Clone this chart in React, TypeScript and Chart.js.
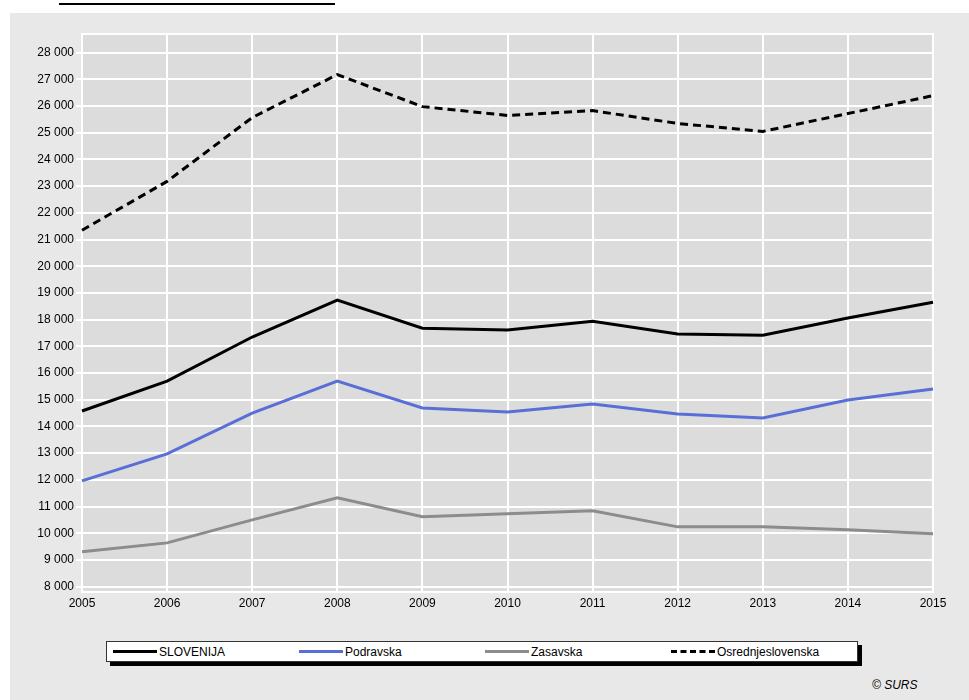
import { useEffect, useRef } from "react";
import { Chart, registerables } from "chart.js";

Chart.register(...registerables);

const years = ["2005", "2006", "2007", "2008", "2009", "2010", "2011", "2012", "2013", "2014", "2015"];
const slovenija = [14580, 15700, 17350, 18730, 17680, 17610, 17940, 17460, 17420, 18060, 18650];
const podravska = [11960, 12970, 14500, 15700, 14690, 14540, 14840, 14470, 14320, 14990, 15400];
const zasavska = [9310, 9640, 10500, 11330, 10620, 10730, 10840, 10240, 10240, 10130, 9980];
const osrednjeslovenska = [21350, 23180, 25570, 27180, 25980, 25650, 25830, 25350, 25050, 25720, 26390];
const yTicks = [8000, 9000, 10000, 11000, 12000, 13000, 14000, 15000, 16000, 17000, 18000, 19000, 20000, 21000, 22000, 23000, 24000, 25000, 26000, 27000, 28000];

const FONT = "'Liberation Sans', Arial, sans-serif";

const plotBg = {
  id: "plotBg",
  beforeDraw(chart: Chart) {
    const { ctx, chartArea: a } = chart;
    ctx.save();
    ctx.fillStyle = "#dcdcdc";
    ctx.fillRect(a.left, a.top, a.right - a.left, a.bottom - a.top);
    ctx.strokeStyle = "#ffffff";
    ctx.lineWidth = 2;
    ctx.strokeRect(a.left, a.top, a.right - a.left, a.bottom - a.top);
    ctx.restore();
  },
};

function fmt(v: number): string {
  return String(v).replace(/\B(?=(\d{3})+(?!\d))/g, " ");
}

export default function App() {
  const canvasRef = useRef<HTMLCanvasElement>(null);

  useEffect(() => {
    document.body.style.margin = "0";
    if (!canvasRef.current) return;
    const line = (label: string, data: number[], color: string, dash: number[] = []) => ({
      label,
      data,
      borderColor: color,
      borderWidth: 3,
      borderDash: dash,
      pointRadius: 0,
      tension: 0,
      fill: false,
    });
    const chart = new Chart(canvasRef.current, {
      type: "line",
      data: {
        labels: years,
        datasets: [
          line("SLOVENIJA", slovenija, "#000000"),
          line("Podravska", podravska, "#5a6fd6"),
          line("Zasavska", zasavska, "#8c8c8c"),
          line("Osrednjeslovenska", osrednjeslovenska, "#000000", [8, 5]),
        ],
      },
      plugins: [plotBg],
      options: {
        animation: false,
        responsive: false,
        layout: { padding: { top: 21, right: 36, left: 0, bottom: 0 } },
        plugins: { legend: { display: false }, tooltip: { enabled: false } },
        scales: {
          x: {
            offset: false,
            afterFit: (s: any) => { s.height = 22; },
            grid: { color: "#ffffff", lineWidth: 2, drawTicks: false },
            border: { display: false },
            ticks: { color: "#000", font: { family: FONT, size: 12 }, maxRotation: 0, padding: 4 },
          },
          y: {
            min: 7800,
            max: 28700,
            afterFit: (s: any) => { s.width = 72; },
            afterBuildTicks: (s: any) => { s.ticks = yTicks.map((value) => ({ value })); },
            grid: { color: "#ffffff", lineWidth: 2, drawTicks: true, tickLength: 6 },
            border: { display: false },
            ticks: {
              color: "#000",
              font: { family: FONT, size: 12 },
              padding: 2,
              callback: (v: any) => fmt(Number(v)),
            },
          },
        },
      },
    });
    return () => chart.destroy();
  }, []);

  const legendItem = (label: string, color: string, dashed = false) => (
    <span style={{ display: "flex", alignItems: "center", width: 188 }}>
      <span
        style={{
          display: "inline-block",
          width: 44,
          height: 0,
          borderTop: `3px ${dashed ? "dashed" : "solid"} ${color}`,
          marginRight: 2,
        }}
      />
      {label}
    </span>
  );

  return (
    <div style={{ position: "relative", width: 969, height: 700, background: "#fff", fontFamily: FONT, overflow: "hidden" }}>
      <div style={{ position: "absolute", left: 59, top: 3, width: 276, height: 2, background: "#000" }} />
      <div style={{ position: "absolute", left: 10, top: 13, width: 959, height: 687, background: "#e8e8e8" }}>
        <canvas ref={canvasRef} width={959} height={601} style={{ position: "absolute", left: 0, top: 0 }} />
        <div
          style={{
            position: "absolute",
            left: 96,
            top: 628,
            width: 744,
            height: 19,
            background: "#fff",
            border: "1px solid #333",
            boxShadow: "4px 4px 0 #000",
            display: "flex",
            alignItems: "center",
            paddingLeft: 6,
            fontSize: 12,
            boxSizing: "content-box",
          }}
        >
          {legendItem("SLOVENIJA", "#000")}
          {legendItem("Podravska", "#5a6fd6")}
          {legendItem("Zasavska", "#8c8c8c")}
          {legendItem("Osrednjeslovenska", "#000", true)}
        </div>
        <div style={{ position: "absolute", left: 862, top: 665, fontSize: 12, fontStyle: "italic" }}>© SURS</div>
      </div>
    </div>
  );
}
